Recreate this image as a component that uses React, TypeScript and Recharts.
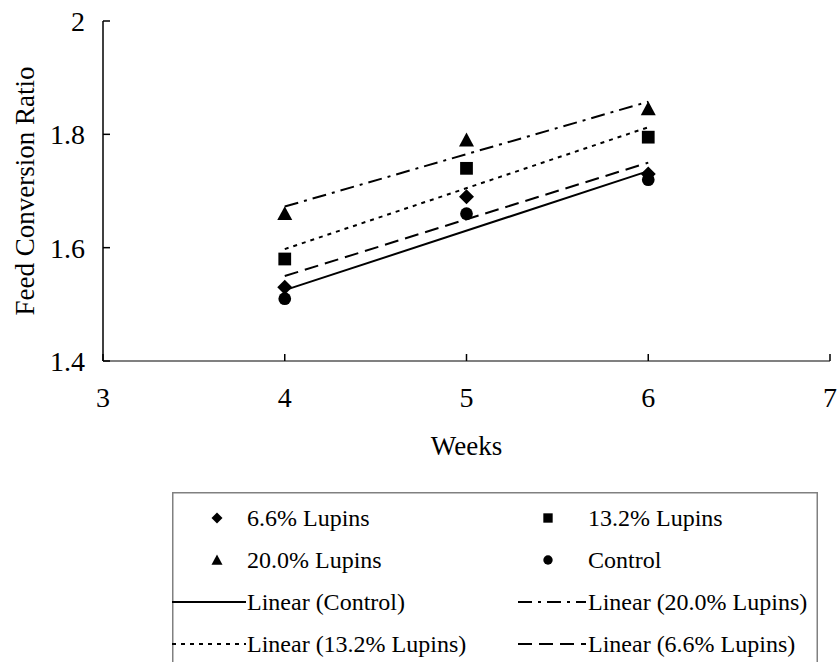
import { ScatterChart, Scatter, XAxis, YAxis, Legend } from 'recharts'

// weeks on feed and feed conversion ratio per diet
const weeks = [4, 5, 6]
const lupins66 = [1.53, 1.69, 1.73]
const lupins132 = [1.58, 1.74, 1.795]
const lupins200 = [1.66, 1.79, 1.845]
const control = [1.51, 1.66, 1.72]

const xTicks = [3, 4, 5, 6, 7]
const yTicks = [1.4, 1.6, 1.8, 2]

const FONT = '"Liberation Serif", "Times New Roman", serif'

type Pt = { x: number; y: number }
type MarkerKind = 'diamond' | 'square' | 'triangle' | 'circle'

const toPoints = (ys: number[]): Pt[] => weeks.map((x, i) => ({ x, y: ys[i] }))

// least-squares trend line, same as a spreadsheet "Linear" trendline
function linearFit(ys: number[]): Pt[] {
  const n = weeks.length
  const mx = weeks.reduce((a, b) => a + b, 0) / n
  const my = ys.reduce((a, b) => a + b, 0) / n
  let sxy = 0
  let sxx = 0
  weeks.forEach((x, i) => {
    sxy += (x - mx) * (ys[i] - my)
    sxx += (x - mx) * (x - mx)
  })
  const slope = sxy / sxx
  return [weeks[0], weeks[n - 1]].map((x) => ({ x, y: my + slope * (x - mx) }))
}

function Marker({ kind, cx, cy, s }: { kind: MarkerKind; cx: number; cy: number; s: number }) {
  const h = s / 2
  if (kind === 'diamond')
    return <polygon points={`${cx},${cy - h} ${cx + h},${cy} ${cx},${cy + h} ${cx - h},${cy}`} fill="#000" />
  if (kind === 'square') return <rect x={cx - h * 0.85} y={cy - h * 0.85} width={s * 0.85} height={s * 0.85} fill="#000" />
  if (kind === 'triangle')
    return <polygon points={`${cx},${cy - h} ${cx + h},${cy + h * 0.85} ${cx - h},${cy + h * 0.85}`} fill="#000" />
  return <circle cx={cx} cy={cy} r={h * 0.85} fill="#000" />
}

const markerShape = (kind: MarkerKind) => (props: any) => <Marker kind={kind} cx={props.cx} cy={props.cy} s={15} />
const noShape = () => <g />

const pointSeries = [
  { name: '6.6% Lupins', data: lupins66, kind: 'diamond' as MarkerKind },
  { name: '13.2% Lupins', data: lupins132, kind: 'square' as MarkerKind },
  { name: '20.0% Lupins', data: lupins200, kind: 'triangle' as MarkerKind },
  { name: 'Control', data: control, kind: 'circle' as MarkerKind },
]

const trendSeries = [
  { name: 'Linear (Control)', data: control, dash: undefined as string | undefined },
  { name: 'Linear (20.0% Lupins)', data: lupins200, dash: '14 6 3 6' },
  { name: 'Linear (13.2% Lupins)', data: lupins132, dash: '4 5' },
  { name: 'Linear (6.6% Lupins)', data: lupins66, dash: '14 7' },
]

const textStyle = { fontFamily: FONT, fontSize: 24, fill: '#000' }

function LegendBox() {
  const rowY = [26, 68, 110, 152]
  const colMarker = [45, 376]
  const colText = [75, 416]
  const colLine = [
    [0, 74],
    [346, 414],
  ]
  return (
    <svg width={646} height={172} style={{ display: 'block', overflow: 'visible' }}>
      <rect x={0.75} y={0.75} width={644.5} height={200} fill="#fff" stroke="#808080" strokeWidth={1.5} />
      {pointSeries.map((s, i) => {
        const col = i % 2
        const y = rowY[Math.floor(i / 2)]
        return (
          <g key={s.name}>
            <Marker kind={s.kind} cx={colMarker[col]} cy={y} s={11} />
            <text x={colText[col]} y={y} dy="0.35em" style={textStyle}>
              {s.name}
            </text>
          </g>
        )
      })}
      {trendSeries.map((s, i) => {
        const col = i % 2
        const y = rowY[2 + Math.floor(i / 2)]
        return (
          <g key={s.name}>
            <line x1={colLine[col][0]} x2={colLine[col][1]} y1={y} y2={y} stroke="#000" strokeWidth={2} strokeDasharray={s.dash} />
            <text x={colText[col]} y={y} dy="0.35em" style={textStyle}>
              {s.name}
            </text>
          </g>
        )
      })}
    </svg>
  )
}

const YTitle = (props: any) => {
  const vb = props.viewBox
  const cx = 25
  const cy = vb.y + vb.height / 2
  return (
    <text
      x={cx}
      y={cy}
      transform={`rotate(-90 ${cx} ${cy})`}
      textAnchor="middle"
      dominantBaseline="central"
      style={{ fontFamily: FONT, fontSize: 27, fill: '#000' }}
    >
      Feed Conversion Ratio
    </text>
  )
}

export default function App() {
  return (
    <div style={{ position: 'absolute', left: 0, top: 0, width: 840, height: 662, background: '#fff', overflow: 'hidden' }}>
      <ScatterChart width={840} height={662} margin={{ top: 21, right: 10, left: 0, bottom: 271 }} style={{ fontFamily: FONT }}>
        <XAxis
          type="number"
          dataKey="x"
          domain={[3, 7]}
          ticks={xTicks}
          allowDataOverflow
          height={30}
          axisLine={{ stroke: '#808080', strokeWidth: 2 }}
          tickLine={{ stroke: '#000', strokeWidth: 1.5 }}
          tickSize={-7}
          tickMargin={33}
          tick={{ fontSize: 28, fontFamily: FONT, fill: '#000' }}
          label={{ value: 'Weeks', position: 'bottom', offset: 45, fontSize: 27, fontFamily: FONT, fill: '#000' }}
        />
        <YAxis
          type="number"
          dataKey="y"
          domain={[1.4, 2]}
          ticks={yTicks}
          allowDataOverflow
          width={103}
          axisLine={{ stroke: '#000', strokeWidth: 1.5 }}
          tickLine={{ stroke: '#000', strokeWidth: 1.5 }}
          tickSize={-7}
          tickMargin={25}
          tick={{ fontSize: 28, fontFamily: FONT, fill: '#000' }}
          label={YTitle}
        />
        {trendSeries.map((s) => (
          <Scatter
            key={s.name}
            name={s.name}
            data={linearFit(s.data)}
            line={{ stroke: '#000', strokeWidth: 2, strokeDasharray: s.dash }}
            lineType="joint"
            shape={noShape}
            isAnimationActive={false}
          />
        ))}
        {pointSeries.map((s) => (
          <Scatter key={s.name} name={s.name} data={toPoints(s.data)} shape={markerShape(s.kind)} isAnimationActive={false} />
        ))}
        <Legend
          layout="horizontal"
          verticalAlign="middle"
          align="center"
          content={() => <LegendBox />}
          wrapperStyle={{ position: 'absolute', left: 172, top: 492, width: 646, height: 172 }}
        />
      </ScatterChart>
    </div>
  )
}
